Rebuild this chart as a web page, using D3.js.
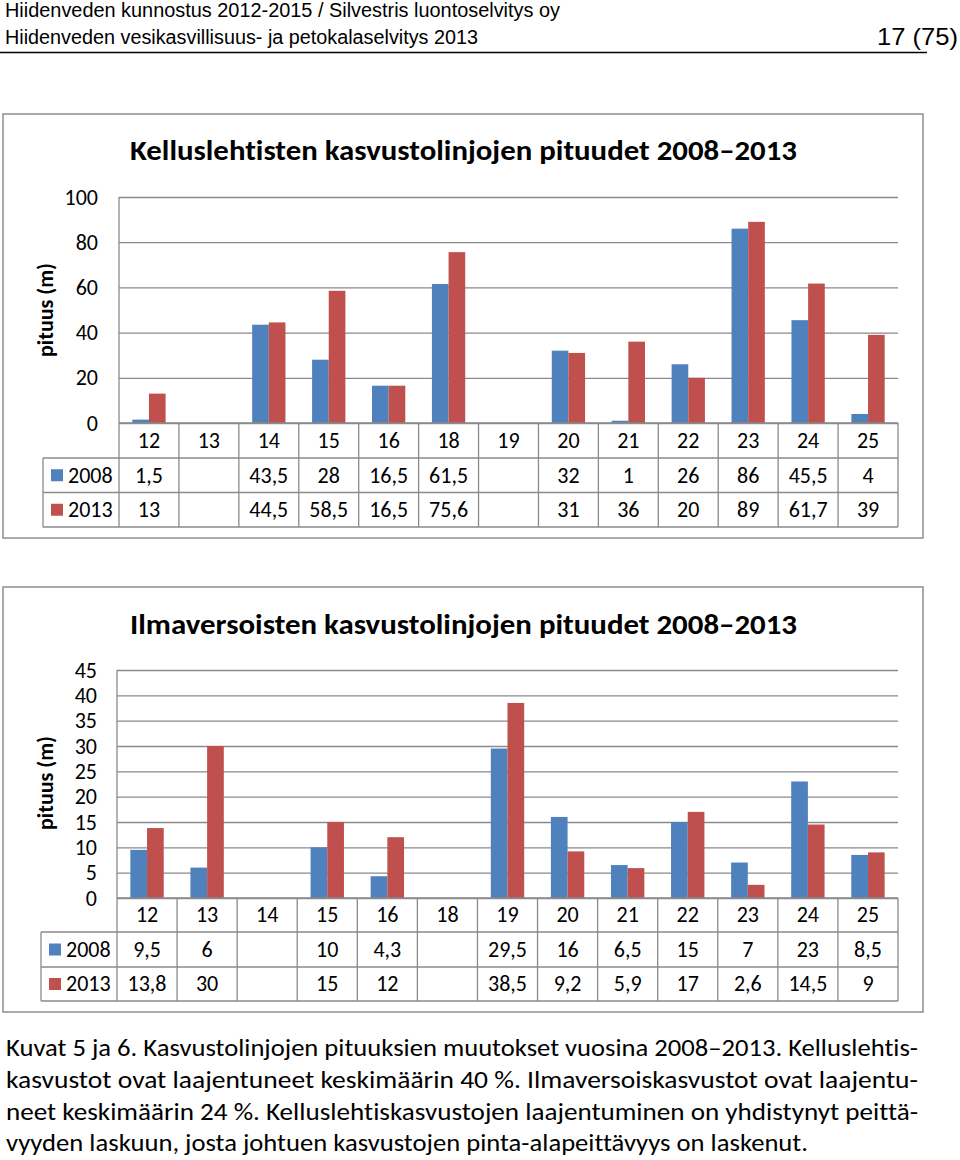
<!DOCTYPE html>
<html><head><meta charset="utf-8">
<script src="https://cdn.jsdelivr.net/npm/d3@7"></script>
<style>
html,body{margin:0;padding:0;background:#fff;}
svg{display:block;}
svg text{font-variant-ligatures:none !important;font-feature-settings:"liga" 0,"clig" 0,"dlig" 0,"calt" 0 !important;}
</style></head>
<body>
<svg id="page" width="960" height="1160"></svg>
<script>
// ---------- DATA ----------
const categories = ["12","13","14","15","16","18","19","20","21","22","23","24","25"];
const seriesNames = ["2008","2013"];
const kellus2008 = [1.5,null,43.5,28,16.5,61.5,null,32,1,26,86,45.5,4];
const kellus2013 = [13,null,44.5,58.5,16.5,75.6,null,31,36,20,89,61.7,39];
const ilma2008 = [9.5,6,null,10,4.3,null,29.5,16,6.5,15,7,23,8.5];
const ilma2013 = [13.8,30,null,15,12,null,38.5,9.2,5.9,17,2.6,14.5,9];
const kellusTicks = [0,20,40,60,80,100];
const ilmaTicks = [0,5,10,15,20,25,30,35,40,45];
const title1 = "Kelluslehtisten kasvustolinjojen pituudet 2008–2013";
const title2 = "Ilmaversoisten kasvustolinjojen pituudet 2008–2013";
const yLabel = "pituus (m)";
const headerLines = ["Hiidenveden kunnostus 2012-2015 / Silvestris luontoselvitys oy",
                     "Hiidenveden vesikasvillisuus- ja petokalaselvitys 2013"];
const pageNo = "17 (75)";
const captionLines = [
  "Kuvat 5 ja 6. Kasvustolinjojen pituuksien muutokset vuosina 2008–2013. Kelluslehtis-",
  "kasvustot ovat laajentuneet keskimäärin 40 %. Ilmaversoiskasvustot ovat laajentu-",
  "neet keskimäärin 24 %. Kelluslehtiskasvustojen laajentuminen on yhdistynyt peittä-",
  "vyyden laskuun, josta johtuen kasvustojen pinta-alapeittävyys on laskenut."
];

// ---------- STYLE ----------
const COLORS = {"2008":"#4F81BD","2013":"#C0504D"};
const GRID = "#8a8a8a";
const FONT = "Carlito, Calibri, Lato, sans-serif";
const NOLIG = "font-variant-ligatures:none;font-feature-settings:'liga' 0,'clig' 0,'dlig' 0,'calt' 0;";
const fi = d3.formatLocale({decimal:",",thousands:" ",grouping:[3],currency:["","€"]});
const fmt = v => v == null ? "" : fi.format("~g")(v);

const svg = d3.select("#page");

// header
const hdr = svg.append("g").attr("font-family","Liberation Sans, Arial, sans-serif").attr("font-size",20).attr("fill","#000");
hdr.append("text").attr("x",5).attr("y",17).text(headerLines[0])
   .attr("textLength",555).attr("lengthAdjust","spacingAndGlyphs");
hdr.append("text").attr("x",5).attr("y",44).text(headerLines[1])
   .attr("textLength",473).attr("lengthAdjust","spacingAndGlyphs");
hdr.append("text").attr("x",958).attr("y",45).attr("text-anchor","end").attr("font-size",24).text(pageNo)
   .attr("textLength",81).attr("lengthAdjust","spacingAndGlyphs");
svg.append("line").attr("x1",0).attr("x2",927).attr("y1",52.5).attr("y2",52.5)
   .attr("stroke","#000").attr("stroke-width",1.5);

function drawChart(cfg){
  const g = svg.append("g").attr("font-family",FONT).attr("fill","#000");
  g.append("rect").attr("x",cfg.box[0]).attr("y",cfg.box[1])
    .attr("width",cfg.box[2]-cfg.box[0]).attr("height",cfg.box[3]-cfg.box[1])
    .attr("fill","#fff").attr("stroke","#8f8f8f").attr("stroke-width",1.5);
  g.append("text").attr("x",130).attr("y",cfg.titleY).attr("font-size",29).attr("font-weight","bold")
    .attr("style",NOLIG)
    .text(cfg.title).attr("textLength",667).attr("lengthAdjust","spacingAndGlyphs");

  const x0 = d3.scaleBand().domain(categories).range([cfg.left,cfg.right]).paddingInner(0).paddingOuter(0);
  const x1 = d3.scaleBand().domain(seriesNames).range([0,x0.bandwidth()]).paddingInner(0).paddingOuter(0.8);
  const y = d3.scaleLinear().domain([0,cfg.max]).range([cfg.zero,cfg.top]);

  const grid = g.append("g").attr("transform",`translate(${cfg.left},0)`)
    .call(d3.axisLeft(y).tickValues(cfg.ticks).tickSize(-(cfg.right-cfg.left)).tickFormat(""));
  grid.select(".domain").remove();
  grid.selectAll("line").attr("stroke",GRID).attr("stroke-width",1.3);

  const data = [];
  categories.forEach((c,i)=>{
    seriesNames.forEach((s,j)=>{
      const v = cfg.values[j][i];
      if(v!=null) data.push({c,s,v});
    });
  });
  g.append("g").selectAll("rect").data(data).join("rect")
    .attr("x",d=>x0(d.c)+x1(d.s)).attr("width",x1.bandwidth())
    .attr("y",d=>y(d.v)).attr("height",d=>cfg.zero-y(d.v))
    .attr("fill",d=>COLORS[d.s]);

  const ya = g.append("g").attr("transform",`translate(${cfg.tickRight},0)`)
    .call(d3.axisLeft(y).tickValues(cfg.ticks).tickSize(0).tickPadding(0).tickFormat(d=>fmt(d)));
  ya.select(".domain").remove();
  ya.selectAll("text").attr("font-size",22).attr("font-family",FONT).attr("fill","#000");

  g.append("text").attr("transform",`translate(${cfg.yLabelX},${cfg.yLabelY}) rotate(-90)`)
    .attr("text-anchor","middle").attr("font-size",22).attr("font-weight","bold").text(yLabel)
    .attr("textLength",94).attr("lengthAdjust","spacingAndGlyphs");

  g.append("line").attr("x1",cfg.left).attr("x2",cfg.left).attr("y1",cfg.top).attr("y2",cfg.rows[3])
    .attr("stroke",GRID).attr("stroke-width",1.3);

  const t = g.append("g").attr("stroke",GRID).attr("stroke-width",1.3);
  t.append("line").attr("x1",cfg.left).attr("x2",cfg.right).attr("y1",cfg.rows[0]).attr("y2",cfg.rows[0]);
  [1,2,3].forEach(k=>{
    t.append("line").attr("x1",cfg.legendLeft).attr("x2",cfg.right).attr("y1",cfg.rows[k]).attr("y2",cfg.rows[k]);
  });
  t.append("line").attr("x1",cfg.legendLeft).attr("x2",cfg.legendLeft).attr("y1",cfg.rows[1]).attr("y2",cfg.rows[3]);
  categories.forEach(c=>{
    const xr = x0(c)+x0.bandwidth();
    t.append("line").attr("x1",xr).attr("x2",xr).attr("y1",cfg.rows[0]).attr("y2",cfg.rows[3]);
  });

  const tt = g.append("g").attr("font-size",22).attr("text-anchor","middle");
  categories.forEach((c,i)=>{
    const cx = x0(c)+x0.bandwidth()/2;
    tt.append("text").attr("x",cx).attr("y",(cfg.rows[0]+cfg.rows[1])/2).attr("dy","0.34em").text(c);
    seriesNames.forEach((s,j)=>{
      tt.append("text").attr("x",cx).attr("y",(cfg.rows[j+1]+cfg.rows[j+2])/2).attr("dy","0.34em").text(fmt(cfg.values[j][i]));
    });
  });
  seriesNames.forEach((s,j)=>{
    const cy = (cfg.rows[j+1]+cfg.rows[j+2])/2;
    g.append("rect").attr("x",cfg.legendLeft+8).attr("y",cy-6).attr("width",12).attr("height",12).attr("fill",COLORS[s]);
    g.append("text").attr("x",cfg.legendLeft+25).attr("y",cy).attr("dy","0.34em").attr("font-size",22).text(s);
  });
}

drawChart({
  box:[3,114,923,538], title:title1, titleY:160,
  left:119, right:898, top:197, zero:423, max:100, ticks:kellusTicks,
  tickRight:98, yLabelX:53, yLabelY:310,
  rows:[423,458,492.5,527], legendLeft:43,
  values:[kellus2008,kellus2013]
});
drawChart({
  box:[3,587,923,1012], title:title2, titleY:634,
  left:117, right:898, top:670, zero:898, max:45, ticks:ilmaTicks,
  tickRight:97, yLabelX:53, yLabelY:783,
  rows:[898,932,967,1001], legendLeft:41,
  values:[ilma2008,ilma2013]
});

const cap = svg.append("g").attr("font-family",FONT).attr("font-size",24).attr("fill","#000");
const capY = [1056,1088,1120,1151];
const capW = [912,912,912,802];
captionLines.forEach((l,i)=>{
  cap.append("text").attr("x",6).attr("y",capY[i]).attr("style",NOLIG).text(l)
    .attr("textLength",capW[i]).attr("lengthAdjust","spacingAndGlyphs");
});
</script>
</body></html>
